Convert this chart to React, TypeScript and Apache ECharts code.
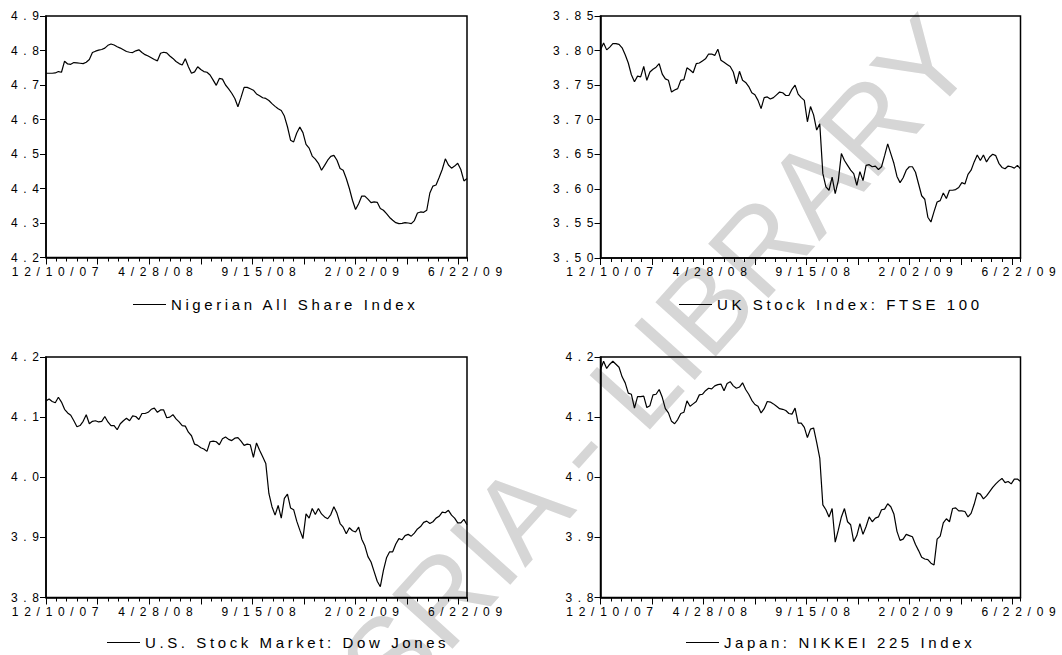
import React, { useEffect, useRef } from "react";
import * as echarts from "echarts";

// x axis: trading-day index counted from 12/10/07, one sample every 3 trading days
const xTickLabels = ["12/10/07", "4/28/08", "9/15/08", "2/02/09", "6/22/09"];
const dayStep = 3;
const lastDay = 408;

const seriesNames = [
  "Nigerian All Share Index",
  "UK Stock Index: FTSE 100",
  "U.S. Stock Market: Dow Jones",
  "Japan: NIKKEI 225 Index",
];

const nigeria = [
  4.734, 4.734, 4.734, 4.735, 4.739, 4.737, 4.769, 4.761, 4.76, 4.765, 4.764, 4.763, 4.762, 4.766,
  4.774, 4.794, 4.798, 4.801, 4.803, 4.807, 4.815, 4.819, 4.816, 4.811, 4.807, 4.802, 4.797, 4.795,
  4.794, 4.799, 4.802, 4.794, 4.788, 4.784, 4.779, 4.774, 4.77, 4.792, 4.795, 4.793, 4.784, 4.777,
  4.768, 4.762, 4.758, 4.776, 4.753, 4.734, 4.738, 4.753, 4.745, 4.739, 4.737, 4.729, 4.714, 4.699,
  4.719, 4.717, 4.7, 4.689, 4.676, 4.661, 4.637, 4.664, 4.693, 4.693, 4.689, 4.685, 4.674, 4.669,
  4.663, 4.661, 4.655, 4.646, 4.638, 4.631, 4.626, 4.61, 4.579, 4.54, 4.535, 4.561, 4.578, 4.562,
  4.528, 4.517, 4.494, 4.485, 4.473, 4.453, 4.467, 4.482, 4.493, 4.496, 4.482, 4.458, 4.453, 4.429,
  4.4, 4.366, 4.339, 4.356, 4.378, 4.378, 4.369, 4.359, 4.361, 4.36, 4.342, 4.337, 4.327, 4.316,
  4.308, 4.301, 4.298, 4.299, 4.301, 4.3, 4.298, 4.307, 4.329, 4.332, 4.331, 4.337, 4.387, 4.407,
  4.41, 4.432, 4.455, 4.486, 4.468, 4.459, 4.465, 4.473, 4.455, 4.422, 4.429,
];

const ftse = [
  3.801, 3.811, 3.801, 3.805, 3.81, 3.81, 3.809, 3.804, 3.794, 3.782, 3.765, 3.755, 3.763, 3.762,
  3.777, 3.757, 3.769, 3.773, 3.776, 3.781, 3.766, 3.759, 3.757, 3.74, 3.743, 3.745, 3.757, 3.758,
  3.775, 3.772, 3.768, 3.781, 3.782, 3.785, 3.788, 3.795, 3.795, 3.793, 3.802, 3.786, 3.783, 3.78,
  3.777, 3.769, 3.752, 3.77, 3.757, 3.754, 3.748, 3.739, 3.736, 3.728, 3.716, 3.732, 3.733, 3.73,
  3.732, 3.736, 3.74, 3.739, 3.735, 3.735, 3.744, 3.75, 3.737, 3.732, 3.728, 3.697, 3.719, 3.707,
  3.685, 3.694, 3.622, 3.603, 3.598, 3.617, 3.593, 3.612, 3.651, 3.641, 3.634, 3.627, 3.622, 3.605,
  3.625, 3.612, 3.634, 3.635, 3.632, 3.633, 3.628, 3.632, 3.648, 3.665, 3.651, 3.637, 3.618, 3.609,
  3.616, 3.627, 3.632, 3.632, 3.624, 3.607, 3.59, 3.585, 3.559, 3.552, 3.567, 3.581, 3.583, 3.594,
  3.586, 3.598, 3.598, 3.599, 3.602, 3.609, 3.607, 3.621, 3.627, 3.639, 3.649, 3.641, 3.649, 3.639,
  3.646, 3.65, 3.648, 3.637, 3.631, 3.629, 3.633, 3.632, 3.63, 3.634, 3.629,
];

const dow = [
  4.127, 4.13, 4.126, 4.124, 4.133, 4.125, 4.113, 4.107, 4.103, 4.094, 4.084, 4.086, 4.093, 4.104,
  4.089, 4.093, 4.094, 4.092, 4.093, 4.101, 4.092, 4.086, 4.086, 4.079, 4.089, 4.094, 4.098, 4.094,
  4.102, 4.101, 4.096, 4.106, 4.106, 4.108, 4.113, 4.115, 4.108, 4.112, 4.112, 4.099, 4.1, 4.104,
  4.097, 4.092, 4.086, 4.085, 4.075, 4.069, 4.055, 4.053, 4.049, 4.047, 4.043, 4.059, 4.06, 4.059,
  4.054, 4.064, 4.067, 4.063, 4.061, 4.065, 4.066, 4.06, 4.053, 4.055, 4.054, 4.033, 4.057, 4.045,
  4.034, 4.023, 3.973, 3.951, 3.937, 3.953, 3.932, 3.965, 3.972, 3.949, 3.946, 3.927, 3.912, 3.898,
  3.939, 3.932, 3.948, 3.938, 3.948, 3.939, 3.934, 3.931, 3.938, 3.951, 3.94, 3.923, 3.917, 3.906,
  3.916, 3.911, 3.909, 3.917, 3.897, 3.886, 3.868, 3.859, 3.843, 3.827, 3.818, 3.845, 3.866, 3.876,
  3.876, 3.889, 3.898, 3.896, 3.903, 3.905, 3.902, 3.907, 3.914, 3.918, 3.925, 3.927, 3.923, 3.926,
  3.932, 3.935, 3.942, 3.941, 3.945, 3.937, 3.932, 3.924, 3.924, 3.93, 3.921,
];

const nikkei = [
  4.179, 4.193, 4.181, 4.188, 4.193, 4.188, 4.183, 4.167, 4.157, 4.14, 4.138, 4.115, 4.134, 4.134,
  4.135, 4.116, 4.119, 4.137, 4.138, 4.146, 4.133, 4.114, 4.107, 4.093, 4.089, 4.096, 4.106, 4.108,
  4.127, 4.118, 4.122, 4.126, 4.137, 4.138, 4.144, 4.148, 4.147, 4.152, 4.154, 4.155, 4.144, 4.156,
  4.159, 4.152, 4.148, 4.15, 4.157, 4.146, 4.138, 4.128, 4.121, 4.118, 4.107, 4.114, 4.126, 4.125,
  4.122, 4.118, 4.114, 4.113, 4.111, 4.106, 4.105, 4.115, 4.09, 4.09, 4.083, 4.066, 4.08, 4.082,
  4.058, 4.032, 3.954, 3.946, 3.934, 3.948, 3.892, 3.912, 3.934, 3.948, 3.926, 3.921, 3.893, 3.903,
  3.923, 3.905, 3.918, 3.934, 3.926, 3.932, 3.934, 3.946, 3.947, 3.956, 3.951, 3.939, 3.91, 3.895,
  3.897, 3.905, 3.903, 3.901, 3.888, 3.878, 3.867, 3.864, 3.863, 3.857, 3.854, 3.897, 3.902, 3.924,
  3.931, 3.926, 3.948, 3.949, 3.944, 3.944, 3.943, 3.934, 3.94, 3.955, 3.974, 3.972, 3.964, 3.969,
  3.976, 3.983, 3.989, 3.994, 3.998, 3.991, 3.993, 3.989, 3.997, 3.997, 3.993,
];

const yMins = [4.2, 3.5, 3.8, 3.8];
const yMaxs = [4.9, 3.85, 4.2, 4.2];
const yIntervals = [0.1, 0.05, 0.1, 0.1];
const yDecimals = [1, 2, 1, 1];

const watermarkText = "SRIA - LIBRARY";

const FONT = "'Liberation Sans', Arial, Helvetica, sans-serif";

const panels = [
  { data: nigeria, left: 46, top: 16, width: 421, height: 241.5, legendLeft: 133, legendTop: 297 },
  { data: ftse, left: 600.5, top: 16, width: 420, height: 242, legendLeft: 679, legendTop: 297 },
  { data: dow, left: 46, top: 357, width: 421, height: 240.5, legendLeft: 107, legendTop: 635 },
  { data: nikkei, left: 600.5, top: 357, width: 420, height: 240.5, legendLeft: 686, legendTop: 635 },
];

const majorTicks = [0, 50, 100, 150, 200, 250, 300, 350, 400];
const labelTicks = [0, 100, 200, 300, 400];

function buildOption() {
  const grid: any[] = [];
  const xAxis: any[] = [];
  const yAxis: any[] = [];
  const series: any[] = [];
  const legend: any[] = [];

  panels.forEach((p, g) => {
    grid.push({
      left: p.left,
      top: p.top,
      width: p.width,
      height: p.height,
      show: true,
      borderColor: "#000",
      borderWidth: 1.5,
      backgroundColor: "transparent",
    });
    // minor ticks every 10 trading days
    xAxis.push({
      type: "value",
      gridIndex: g,
      min: 0,
      max: lastDay,
      interval: 10,
      position: "bottom",
      axisLine: { show: true, onZero: false, lineStyle: { color: "#000", width: 1.5 } },
      axisTick: { show: true, length: 4, lineStyle: { color: "#000", width: 1 } },
      axisLabel: { show: false },
      splitLine: { show: false },
    });
    // major ticks and labels
    xAxis.push({
      type: "value",
      gridIndex: g,
      min: 0,
      max: lastDay,
      interval: 50,
      position: "bottom",
      axisLine: { show: false, onZero: false },
      axisTick: { show: true, length: 7, customValues: majorTicks, lineStyle: { color: "#000", width: 1 } },
      axisLabel: {
        show: true,
        customValues: labelTicks,
        margin: 8,
        fontSize: 12,
        color: "#000",
        fontFamily: FONT,
        formatter: (v: number) => (v % 100 === 0 ? xTickLabels[v / 100] || "" : ""),
      },
      splitLine: { show: false },
    });
    yAxis.push({
      type: "value",
      gridIndex: g,
      min: yMins[g],
      max: yMaxs[g],
      interval: yIntervals[g],
      axisLine: { show: true, onZero: false, lineStyle: { color: "#000", width: 1.5 } },
      axisTick: { show: true, length: 6, lineStyle: { color: "#000", width: 1 } },
      axisLabel: {
        margin: 7,
        fontSize: 12,
        color: "#000",
        fontFamily: FONT,
        formatter: (v: number) => v.toFixed(yDecimals[g]),
      },
      splitLine: { show: false },
    });
    series.push({
      type: "line",
      name: seriesNames[g],
      xAxisIndex: g * 2,
      yAxisIndex: g,
      data: p.data.map((v, k) => [k * dayStep, v]),
      symbol: "none",
      showSymbol: false,
      lineStyle: { color: "#000", width: 1.2 },
      itemStyle: { color: "#000" },
      z: 3,
    });
    legend.push({
      data: [seriesNames[g]],
      left: p.legendLeft,
      top: p.legendTop,
      padding: 0,
      icon: "rect",
      itemWidth: 33,
      itemHeight: 1,
      selectedMode: false,
      textStyle: { fontSize: 15, color: "#000", fontFamily: FONT },
    });
  });

  return {
    animation: false,
    backgroundColor: "#fff",
    grid,
    xAxis,
    yAxis,
    series,
    legend,
    graphic: [
      {
        type: "text",
        x: 363,
        y: 687,
        rotation: (48 * Math.PI) / 180,
        z: -10,
        silent: true,
        style: {
          text: watermarkText,
          fontSize: 118,
          fontFamily: FONT,
          fill: "#d6d6d6",
          textAlign: "left",
          textVerticalAlign: "middle",
        },
      },
    ],
  };
}

function applySpacing(root: HTMLElement | null) {
  if (!root) return;
  const texts = root.querySelectorAll("svg text");
  texts.forEach((node) => {
    const t = node as SVGTextElement;
    if (t.getAttribute("data-sp") === "1") return;
    const s = (t.textContent || "").trim();
    let ls = 0;
    let dx = 0;
    if (xTickLabels.includes(s)) {
      ls = 5.7;
      dx = (s.length * ls) / 2 - 10.8;
    } else if (/^\d\.\d+$/.test(s)) {
      ls = 5.7;
      dx = ls;
    } else if (seriesNames.includes(s)) {
      ls = 3.6;
    } else {
      return;
    }
    t.setAttribute("letter-spacing", String(ls));
    if (dx) t.setAttribute("dx", String(dx));
    t.setAttribute("data-sp", "1");
  });
}

export default function App() {
  const ref = useRef<HTMLDivElement>(null);
  useEffect(() => {
    if (!ref.current) return;
    const chart = echarts.init(ref.current, undefined, { renderer: "svg" });
    chart.setOption(buildOption() as any);
    const el = ref.current;
    const apply = () => applySpacing(el);
    apply();
    chart.on("finished", apply);
    const t1 = setTimeout(apply, 50);
    const t2 = setTimeout(apply, 300);
    return () => {
      clearTimeout(t1);
      clearTimeout(t2);
      chart.dispose();
    };
  }, []);
  return (
    <div
      ref={ref}
      style={{ position: "absolute", left: 0, top: 0, width: 1062, height: 655, background: "#fff" }}
    />
  );
}
